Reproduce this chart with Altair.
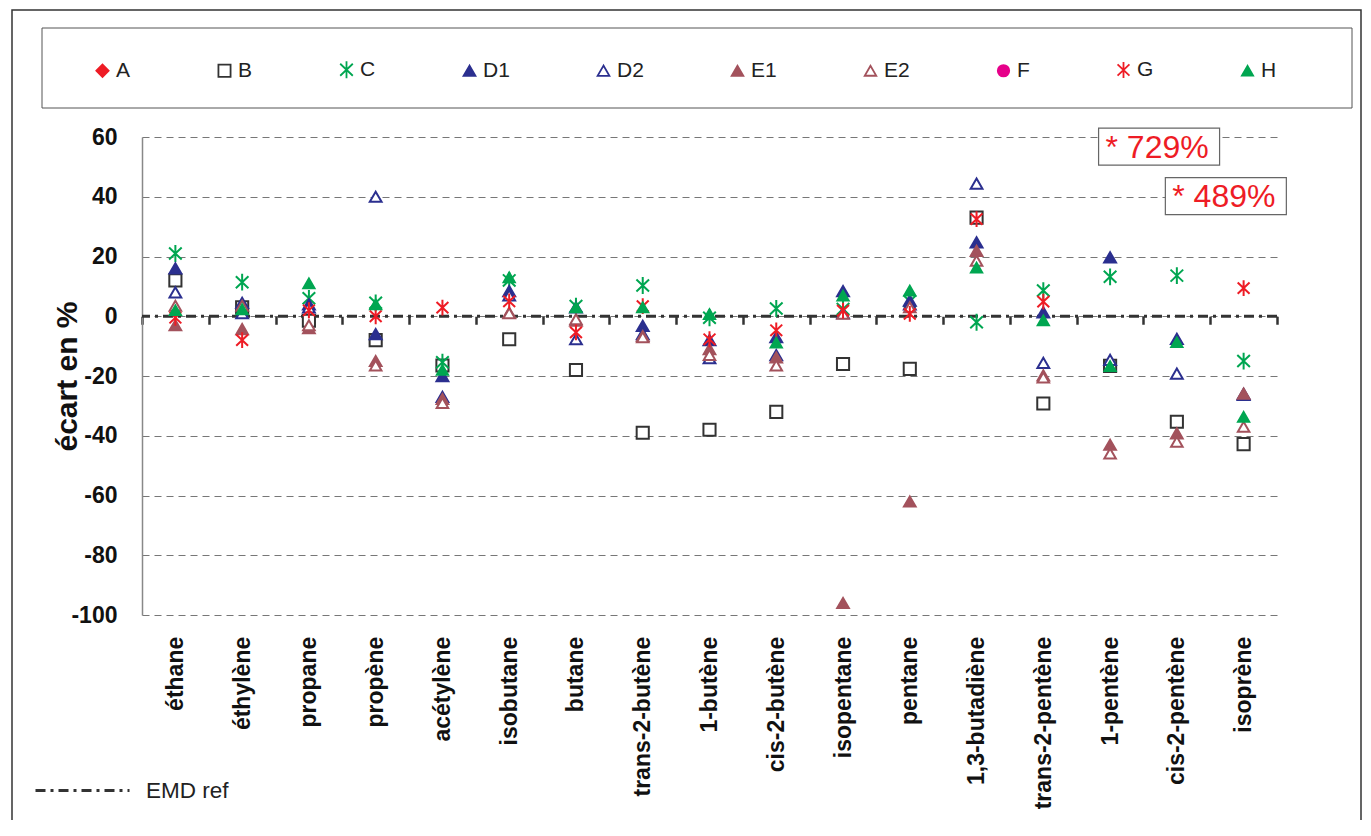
import altair as alt
import pandas as pd

categories = ["éthane", "éthylène", "propane", "propène", "acétylène", "isobutane",
              "butane", "trans-2-butène", "1-butène", "cis-2-butène", "isopentane",
              "pentane", "1,3-butadiène", "trans-2-pentène", "1-pentène",
              "cis-2-pentène", "isoprène"]

series_names = ["A", "B", "C", "D1", "D2", "E1", "E2", "F", "G", "H"]

# écart en % (A and F not visible)
A = [None] * 17
B = [12, 3, -1.5, -8, -16.5, -7.7, -18, -39, -38, -32, -16, -17.6, 33, -29.2, -16.6, -35.3, -42.8]
C = [21, 11.4, 6, 4.5, -15.4, 12, 3.4, 10.3, -0.5, 2.6, 2.4, 5, -2, 8.6, 13.2, 13.6, -15]
D1 = [16, 4.5, 4, -6, -20, 8.4, 3, -3.2, -8, -7, 8.4, 5.2, 24.7, 1.3, 19.7, -7.6, -26.3]
D2 = [8, 1, 3, 40, -27, 7, -7.7, -6, -14, -13, 1, 4, 44.4, -15.6, -14.6, -19.2, -26]
E1 = [-3, -4.3, -4, -15, -27.7, 1.2, -1.5, -6.6, -11, -13.8, -96, -62, 21.9, -19.8, -43, -39.2, -25.9]
E2 = [3.5, 3.5, -3, -16.5, -29, 1, -1, -7, -13, -16.5, 0.8, 3, 18.6, -20.5, -45.9, -42, -37]
F = [None] * 17
G = [-0.5, -8, 2, 0, 2.9, 5, -5.4, 3.4, -7.7, -4.7, 1.9, 0.8, 32.5, 4.9, 729, 489, 9.4]
H = [2, 2.3, 11, 4, -18, 13, 3, 3, 0.7, -8.8, 6.9, 8.6, 16.3, -1.4, -16.7, -8.7, -33.7]

annot_cats = ["1-pentène", "cis-2-pentène"]
annot_text = ["* 729%", "* 489%"]
annot_pos = [56.8, 40.2]

ref_name = ["EMD ref"]
ref_value = [0]

rows = []
for name, vals in zip(series_names, [A, B, C, D1, D2, E1, E2, F, G, H]):
    for cat, v in zip(categories, vals):
        if v is not None:
            rows.append({"cat": cat, "series": name, "val": v})
df = pd.DataFrame(rows)

ref_df = pd.DataFrame({"ref": ref_name, "val": ref_value})
annot_df = pd.DataFrame({"cat": annot_cats, "label": annot_text, "val": annot_pos})

RED = "#ee1c25"
GREEN = "#00a651"
NAVY = "#2b2f8f"
BROWN = "#a3525c"
MAGENTA = "#e6008a"
DARK = "#333333"
ASTER = "M0,-1.4L0,1.4M-1.05,-1L1.05,1M-1.05,1L1.05,-1"

shapes = ["diamond", "square", ASTER, "triangle-up", "triangle-up", "triangle-up",
          "triangle-up", "circle", ASTER, "triangle-up"]
stroke_cols = [RED, DARK, GREEN, NAVY, NAVY, BROWN, BROWN, MAGENTA, RED, GREEN]
fill_cols = [RED, "white", "transparent", NAVY, "white", BROWN, "white", MAGENTA, "transparent", GREEN]
sizes = [150, 125, 330, 235, 200, 235, 200, 150, 330, 235]

FONT = "Liberation Sans"
W, HGT = 1135, 478

x_enc = alt.X(
    "cat:N", sort=categories,
    scale=alt.Scale(type="band", domain=categories, paddingInner=0, paddingOuter=0),
    axis=alt.Axis(
        title=None, orient="bottom", offset=-298.75, domain=False,
        ticks=True, tickBand="extent", tickSize=8, tickWidth=2.5, tickColor=DARK,
        labelAngle=270, labelAlign="right", labelBaseline="middle",
        labelPadding=312, labelFont=FONT, labelFontSize=23, labelFontWeight="bold",
        labelColor="#111", grid=False, labelLimit=300,
    ),
)

y_scale = alt.Scale(domain=[-100, 60], nice=False, zero=False)
y_enc = alt.Y(
    "val:Q", scale=y_scale,
    axis=alt.Axis(
        title="écart en %", values=list(range(-100, 61, 20)), ticks=False,
        labelExpr="'' + datum.value",
        domain=True, domainColor="#888888", domainWidth=1.5,
        grid=True, gridColor="#777777", gridDash=[7, 5], gridWidth=1.2,
        labelFont=FONT, labelFontSize=23, labelFontWeight="bold", labelColor="#111",
        labelPadding=25,
        titleFont=FONT, titleFontSize=30, titleFontWeight="bold", titleColor="#111",
        titleAngle=270, titleX=-66, titleY=239, titleAlign="center", titleBaseline="alphabetic",
    ),
)

series_legend = alt.Legend(
    title=None, orient="none", legendX=-50, legendY=-78, direction="horizontal",
    columns=10, columnPadding=83, labelFont=FONT, labelFontSize=21,
    labelColor="#222", symbolSize=120, symbolStrokeWidth=1.8, labelOffset=3,
)

frame = alt.Chart(pd.DataFrame({"k": [0]})).mark_rect(
    fill=None, stroke=DARK, strokeWidth=1.5
).encode(x=alt.value(-130), x2=alt.value(1219), y=alt.value(-127), y2=alt.value(700))

legend_box = alt.Chart(pd.DataFrame({"k": [0]})).mark_rect(
    fill=None, stroke="#555555", strokeWidth=1
).encode(x=alt.value(-100), x2=alt.value(1210), y=alt.value(-109), y2=alt.value(-29))

ref_rule = alt.Chart(ref_df).mark_rule(color=DARK, strokeWidth=3).encode(
    y=y_enc,
    strokeDash=alt.StrokeDash(
        "ref:N",
        scale=alt.Scale(domain=ref_name, range=[[10, 5, 3, 5]]),
        legend=alt.Legend(
            title=None, orient="none", legendX=-108, legendY=605,
            symbolType="stroke", symbolSize=8836, symbolStrokeWidth=3,
            symbolStrokeColor=DARK, labelFont=FONT, labelFontSize=22.5,
            labelColor="#222", labelOffset=15,
        ),
    ),
)

points = alt.Chart(df).mark_point(filled=False, strokeWidth=2, opacity=1, clip=True).encode(
    x=x_enc,
    y=y_enc,
    shape=alt.Shape("series:N", scale=alt.Scale(domain=series_names, range=shapes), legend=series_legend),
    stroke=alt.Stroke("series:N", scale=alt.Scale(domain=series_names, range=stroke_cols), legend=series_legend),
    fill=alt.Fill("series:N", scale=alt.Scale(domain=series_names, range=fill_cols), legend=series_legend),
    size=alt.Size("series:N", scale=alt.Scale(domain=series_names, range=sizes), legend=series_legend),
)

annot_box = alt.Chart(annot_df).mark_point(
    shape="M-1,-0.306H1V0.306H-1Z", size=14641, fill="white", filled=True,
    stroke="#666666", strokeWidth=1.2, opacity=1, xOffset=49,
).encode(x=x_enc, y=y_enc)

annot_txt = alt.Chart(annot_df).mark_text(
    font=FONT, fontSize=32, color=RED, align="center", baseline="middle", dx=47, dy=1,
).encode(x=x_enc, y=y_enc, text="label:N")

chart = alt.layer(frame, legend_box, ref_rule, points, annot_box, annot_txt).properties(
    width=W, height=HGT,
    autosize=alt.AutoSizeParams(type="none"),
    padding={"left": 134, "top": 129, "right": 86, "bottom": 205},
    background="white",
).configure_view(stroke=None)

chart.save("out.html", embed_options={"renderer": "svg", "actions": False})
